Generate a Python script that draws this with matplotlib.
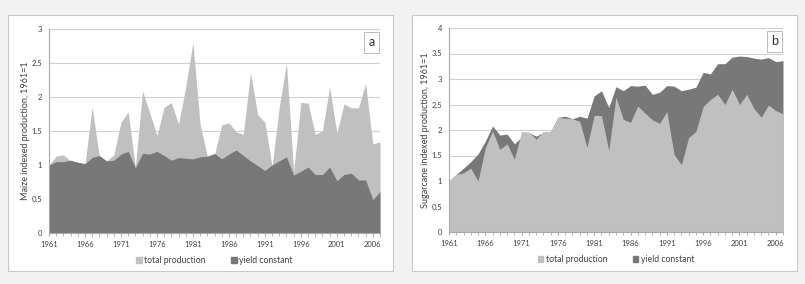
import matplotlib
matplotlib.use("Agg")
import matplotlib.pyplot as plt
from matplotlib.patches import Rectangle, Patch

plt.rcParams['font.family'] = ['Lato', 'DejaVu Sans']

years = list(range(1961, 2008))

maize_total = [1.0, 1.13, 1.15, 1.06, 1.04, 1.02, 1.85, 1.12, 1.06, 1.15,
               1.63, 1.78, 0.97, 2.09, 1.77, 1.43, 1.85, 1.92, 1.60, 2.15,
               2.80, 1.60, 1.13, 1.15, 1.59, 1.62, 1.49, 1.45, 2.36, 1.74,
               1.63, 0.98, 1.85, 2.50, 0.90, 1.92, 1.91, 1.45, 1.50, 2.15,
               1.47, 1.90, 1.84, 1.84, 2.20, 1.31, 1.34]
maize_yield = [1.0, 1.05, 1.05, 1.07, 1.04, 1.02, 1.11, 1.14, 1.06, 1.07,
               1.16, 1.20, 0.96, 1.17, 1.16, 1.20, 1.14, 1.07, 1.11, 1.10,
               1.09, 1.12, 1.13, 1.17, 1.09, 1.16, 1.22, 1.14, 1.06, 0.99,
               0.92, 1.00, 1.06, 1.12, 0.85, 0.91, 0.97, 0.86, 0.86, 0.97,
               0.77, 0.86, 0.88, 0.78, 0.78, 0.49, 0.61]

cane_total = [1.0, 1.13, 1.16, 1.25, 1.00, 1.65, 1.98, 1.62, 1.73, 1.43,
              1.97, 1.96, 1.82, 1.97, 1.97, 2.25, 2.23, 2.22, 2.17, 1.66,
              2.29, 2.28, 1.60, 2.64, 2.21, 2.15, 2.47, 2.33, 2.20, 2.13,
              2.36, 1.52, 1.32, 1.85, 1.97, 2.46, 2.60, 2.70, 2.50, 2.80,
              2.50, 2.70, 2.42, 2.25, 2.49, 2.38, 2.32]
cane_yield = [1.0, 1.13, 1.25, 1.38, 1.53, 1.78, 2.08, 1.90, 1.92, 1.73,
              1.86, 1.95, 1.88, 1.95, 1.97, 2.25, 2.27, 2.22, 2.27, 2.23,
              2.67, 2.77, 2.44, 2.85, 2.77, 2.87, 2.86, 2.88, 2.70, 2.74,
              2.87, 2.86, 2.77, 2.80, 2.84, 3.13, 3.10, 3.30, 3.30, 3.43,
              3.45, 3.44, 3.41, 3.39, 3.42, 3.34, 3.36]

light = '#c0c0c0'
dark = '#787878'
txt = '#404040'

fig = plt.figure(figsize=(8.05, 2.84), dpi=100, facecolor='#f2f2f2')

# panel frames
for x0 in (8, 412):
    fig.patches.append(Rectangle((x0 / 805, 1 - 271 / 284), 385 / 805, 256 / 284,
                                 transform=fig.transFigure, facecolor='white',
                                 edgecolor='#c8c8c8', linewidth=0.8, zorder=-5))


def panel(rect, total, yld, ymax, ylabel, tag, dark_front):
    ax = fig.add_axes(rect, zorder=2)
    ax.set_facecolor('white')
    if dark_front:
        ax.fill_between(years, total, color=light, lw=0, zorder=2)
        ax.fill_between(years, yld, color=dark, lw=0, zorder=3)
    else:
        ax.fill_between(years, yld, color=dark, lw=0, zorder=2)
        ax.fill_between(years, total, color=light, lw=0, zorder=3)
    ax.set_xlim(1961, 2007)
    ax.set_ylim(0, ymax)
    yt = [i * 0.5 for i in range(int(ymax * 2) + 1)]
    ax.set_yticks(yt)
    ax.set_yticklabels(['%g' % v for v in yt])
    ax.set_xticks(range(1961, 2008, 5))
    ax.set_xticks(years, minor=True)
    ax.grid(axis='y', color='#d0d0d0', lw=0.8, zorder=1)
    for s in ('top', 'right'):
        ax.spines[s].set_visible(False)
    for s in ('left', 'bottom'):
        ax.spines[s].set_color('#a8a8a8')
        ax.spines[s].set_linewidth(0.8)
        ax.spines[s].set_zorder(4)
    ax.tick_params(axis='y', length=0, labelsize=5.5, labelcolor=txt, pad=5)
    ax.tick_params(axis='x', which='both', length=2.5, color='#a8a8a8',
                   labelsize=5.5, labelcolor=txt, pad=3)
    ax.set_ylabel(ylabel, fontsize=6.5, color=txt, labelpad=1)
    ax.text(0.985, 0.965, tag, transform=ax.transAxes, ha='right', va='top',
            fontsize=9, color='#303030', zorder=6,
            bbox=dict(boxstyle='square,pad=0.35', facecolor='white',
                      edgecolor='#b0b0b0', lw=0.6))
    handles = [Patch(color=light, label='total production'),
               Patch(color=dark, label='yield constant')]
    ax.legend(handles=handles, loc='upper center', bbox_to_anchor=(0.5, -0.075),
              ncol=2, frameon=False, fontsize=6.2, handlelength=0.6,
              handleheight=0.6, columnspacing=3, handletextpad=0.3,
              labelcolor=txt)
    return ax


panel([49 / 805, 1 - 233 / 284, 331 / 805, 204 / 284], maize_total, maize_yield,
      3, 'Maize indexed production, 1961=1', 'a', True)
panel([449 / 805, 1 - 232 / 284, 334 / 805, 204 / 284], cane_total, cane_yield,
      4, 'Sugarcane indexed production, 1961=1', 'b', False)

fig.savefig('out.png', dpi=100, facecolor=fig.get_facecolor())
